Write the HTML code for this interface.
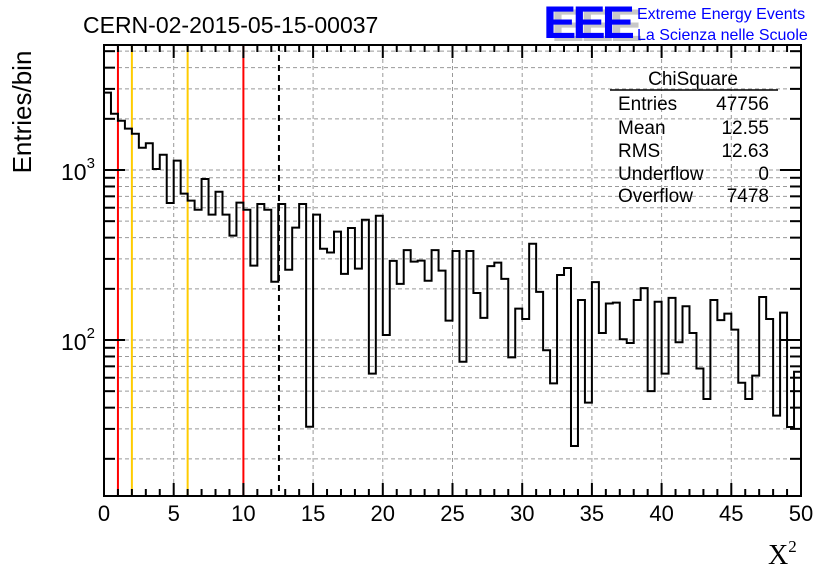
<!DOCTYPE html>
<html><head><meta charset="utf-8"><style>
html,body{margin:0;padding:0;background:#fff;}
svg{display:block;font-family:"Liberation Sans",sans-serif;}
</style></head><body>
<svg id="c" width="836" height="572" viewBox="0 0 836 572" xmlns="http://www.w3.org/2000/svg">
<rect width="836" height="572" fill="#fff"/>
<text x="83" y="33" font-size="23">CERN-02-2015-05-15-00037</text>
<g>
<text x="551" y="41" font-size="50" font-weight="bold" fill="#c8c8c8" letter-spacing="-4" transform="scale(1,0.9)" style="transform-origin:551px 41px">EEE</text>
<text x="543" y="38" font-size="50" font-weight="bold" fill="#0000ff" letter-spacing="-4" transform="scale(1,0.9)" style="transform-origin:543px 38px">EEE</text>
<text x="637" y="19" font-size="16" fill="#0000ff">Extreme Energy Events</text>
<text x="637" y="40" font-size="16" fill="#0000ff">La Scienza nelle Scuole</text>
</g>
<g id="grid"></g>
<g id="lines"></g>
<g id="hist"></g>
<g id="axes"></g>
<g font-size="19">
<text x="693" y="85" text-anchor="middle">ChiSquare</text>
<line x1="610" y1="90" x2="778" y2="90" stroke="#000" stroke-width="1.5"/>
<text x="618" y="110">Entries</text><text x="769" y="110" text-anchor="end">47756</text>
<text x="618" y="134">Mean</text><text x="769" y="134" text-anchor="end">12.55</text>
<text x="618" y="157">RMS</text><text x="769" y="157" text-anchor="end">12.63</text>
<text x="618" y="180">Underflow</text><text x="769" y="180" text-anchor="end">0</text>
<text x="618" y="202">Overflow</text><text x="769" y="202" text-anchor="end">7478</text>
</g>
<text transform="translate(31,112) rotate(-90)" font-size="26" text-anchor="middle">Entries/bin</text>
<text x="768" y="564" font-size="28" font-family="Liberation Serif,serif">X<tspan font-size="17" dy="-12">2</tspan></text>
</svg>
<script>
const counts=[2850,2143,1950,1750,1633,1352,1436,1014,1230,640,1135,726,660,584,885,546,745,546,411,643,584,274,631,584,220,631,259,458,631,30.9,546,344,327,434,245,456,263,510,63.4,538,107,292,214,338,289,293,223,338,256,130,334,74.5,334,189,135,272,285,229,79,153,133,368,192,87,55.6,241,265,23.8,172,42.8,219,110,164,166,101,96,172,202,50,168,63.4,177,97,158,110,68,45,172,131,143,115,56,45,61.7,179,133,35.9,145,30.8,65];
const xTicks=[0,5,10,15,20,25,30,35,40,45,50];
const yTickExps=[2,3];
const vLines=[{x:1,c:"#ff0000",n:"red-line-1"},{x:2,c:"#ffcc00",n:"orange-line-2"},{x:6,c:"#ffcc00",n:"orange-line-6"},{x:10,c:"#ff0000",n:"red-line-10"}];
const meanLine=[12.55];
const X0=104,X1=801,Y0=45,Y1=496,NS="http://www.w3.org/2000/svg";
const xs=v=>X0+(X1-X0)*v/50;
const ys=v=>170-(Math.log10(v)-3)*170;
function mk(t,a,p){const e=document.createElementNS(NS,t);for(const k in a)e.setAttribute(k,a[k]);p.appendChild(e);return e;}
const grid=document.getElementById('grid'),ax=document.getElementById('axes'),hist=document.getElementById('hist'),ln=document.getElementById('lines');
for(const t of xTicks){if(t===0||t===50)continue;const g=mk('line',{x1:xs(t),x2:xs(t),y1:Y0,y2:Y1,stroke:'#999','stroke-dasharray':'4,3','stroke-width':1},grid);

}
for(let e=1;e<=3;e++)for(let m=1;m<=9;m++){const v=m*Math.pow(10,e);const y=ys(v);if(y<=Y0||y>=Y1)continue;
const g=mk('line',{x1:X0,x2:X1,y1:y,y2:y,stroke:'#999','stroke-dasharray':'4,3','stroke-width':1},grid);


const l1=mk('line',{x1:X0,x2:X0+(m===1?21:11),y1:y,y2:y,stroke:'#000','stroke-width':2},ax);


const l2=mk('line',{x1:X1,x2:X1-(m===1?21:11),y1:y,y2:y,stroke:'#000','stroke-width':2},ax);

}
for(const v of vLines){const l=mk('line',{x1:xs(v.x),x2:xs(v.x),y1:Y0,y2:Y1,stroke:v.c,'stroke-width':2},ln);

}
for(const m of meanLine){const l=mk('line',{x1:xs(m),x2:xs(m),y1:Y0,y2:Y1,stroke:'#000','stroke-width':2,'stroke-dasharray':'6,4'},ln);

}
let d='';for(let i=0;i<counts.length;i++){const xa=xs(i*0.5),xb=xs((i+1)*0.5),y=Math.max(Y0,Math.min(Y1,ys(counts[i])));d+=(i===0?'M'+xa+','+y:'L'+xa+','+y)+'L'+xb+','+y;}
const p=mk('path',{d:d,fill:'none',stroke:'#000','stroke-width':2},hist);


const fr=mk('rect',{x:X0,y:Y0,width:X1-X0,height:Y1-Y0,fill:'none',stroke:'#000','stroke-width':2},ax);


for(let t=0;t<=50;t++){const maj=t%5===0,L=maj?13:7;
const a=mk('line',{x1:xs(t),x2:xs(t),y1:Y1,y2:Y1-L,stroke:'#000','stroke-width':2},ax);


const b=mk('line',{x1:xs(t),x2:xs(t),y1:Y0,y2:Y0+L,stroke:'#000','stroke-width':2},ax);

}
for(const t of xTicks){const tx=mk('text',{x:xs(t),y:521,'font-size':22,'text-anchor':'middle'},ax);tx.textContent=t;

}
for(const e of yTickExps){const tx=mk('text',{x:61,y:ys(Math.pow(10,e))+10,'font-size':23},ax);tx.textContent='10';


const s=mk('tspan',{'font-size':15,dy:-12},tx);s.textContent=e;}
</script>
</body></html>
